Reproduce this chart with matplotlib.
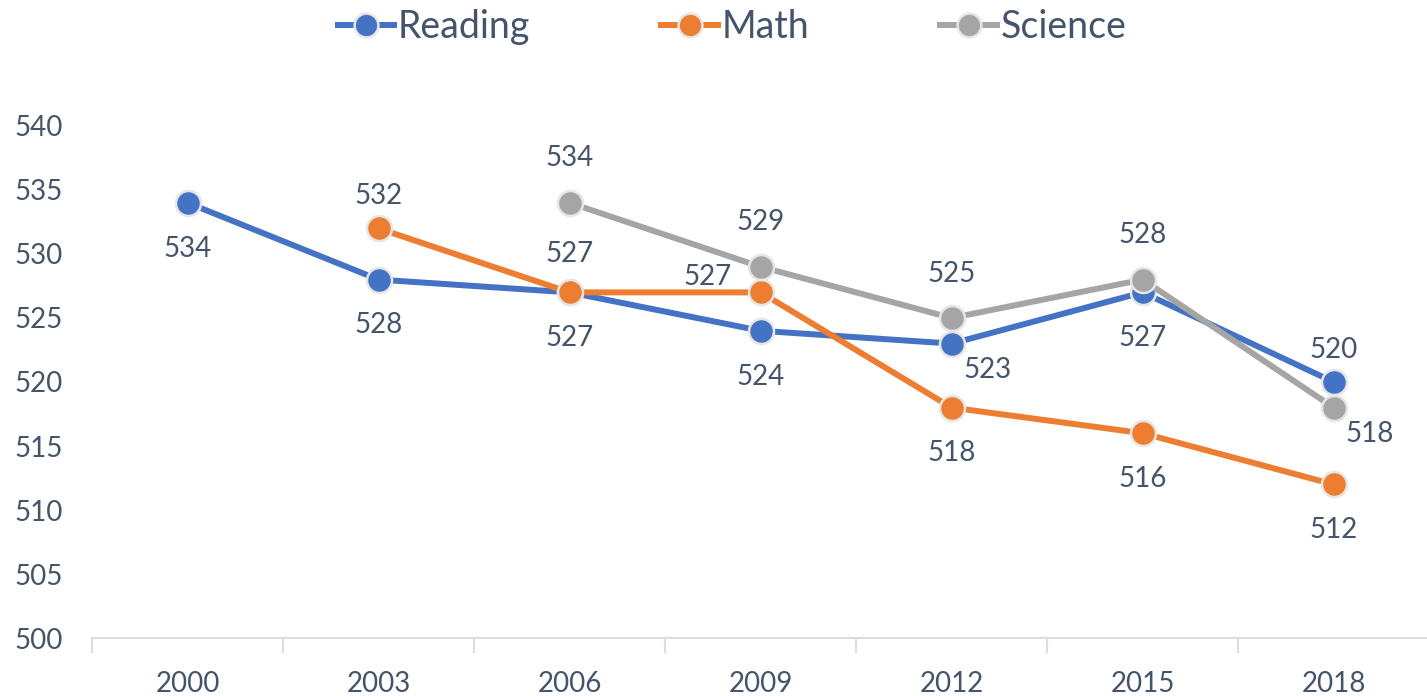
import numpy as np
import matplotlib.pyplot as plt

years = ["2000", "2003", "2006", "2009", "2012", "2015", "2018"]
reading = [534, 528, 527, 524, 523, 527, 520]
math = [np.nan, 532, 527, 527, 518, 516, 512]
science = [np.nan, np.nan, 534, 529, 525, 528, 518]

# where each data label sits relative to its point
reading_pos = ["b", "b", "b", "b", "br", "b", "ts"]
math_pos = [None, "ts", "tm", "l", "b", "b", "b"]
science_pos = [None, None, "t", "t", "t", "t", "br"]

plt.rcParams['font.family'] = ['Lato', 'DejaVu Sans']
txt = '#44546A'

fig = plt.figure(figsize=(14.27, 6.96), dpi=100)
ax = fig.add_axes([0.0645, 0.0833, 0.937, 0.7357])

x = np.arange(len(years))
offsets = {"b": (0, -33), "t": (0, 32), "tm": (0, 28), "ts": (0, 23),
           "l": (-38, 11), "br": (26, -19)}

series = [("Reading", reading, '#4472C4', reading_pos),
          ("Math", math, '#ED7D31', math_pos),
          ("Science", science, '#A5A5A5', science_pos)]

for name, vals, col, pos in series:
    ax.plot(x, vals, color=col, lw=4.3, marker='o', ms=18,
            mfc=col, mec='#E6E6E6', mew=1.8, label=name, zorder=3)
    for i, v in enumerate(vals):
        if pos[i] is None:
            continue
        dx, dy = offsets[pos[i]]
        ax.annotate(str(v), (x[i], v), xytext=(dx, dy),
                    textcoords='offset points', ha='center', va='center',
                    fontsize=20, color=txt)

ax.set_ylim(500, 540)
ax.set_yticks(range(500, 541, 5))
ax.set_xlim(-0.5, len(years) - 0.5)
ax.set_xticks(x)
ax.set_xticklabels(years)
for s in ['top', 'right', 'left']:
    ax.spines[s].set_visible(False)
ax.spines['bottom'].set_color('#D9DEE6')
ax.spines['bottom'].set_linewidth(1.5)
ax.tick_params(axis='both', length=0, labelsize=20, labelcolor=txt)
ax.tick_params(axis='y', pad=56)
ax.tick_params(axis='x', pad=24)
for yl in ax.get_yticklabels():
    yl.set_horizontalalignment('left')
# category boundary ticks
for b in np.arange(-0.5, len(years), 1.0):
    ax.plot([b, b], [500, 498.9], color='#D9DEE6', lw=1.5, clip_on=False)

fig.legend(loc='upper center', bbox_to_anchor=(0.513, 1.035), ncol=3,
           frameon=False, fontsize=27, labelcolor=txt, handlelength=1.5,
           handletextpad=0.1, columnspacing=3.5, markerscale=0.95)

fig.savefig('out.png', dpi=100)
